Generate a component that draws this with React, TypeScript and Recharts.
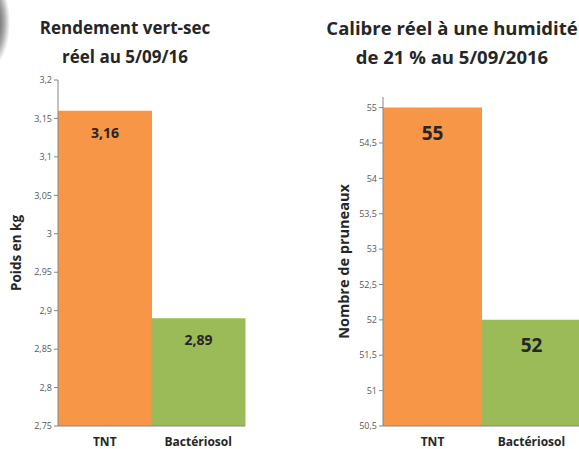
import React from "react";
import {
  Bar,
  BarChart,
  Cell,
  LabelList,
  Label,
  XAxis,
  YAxis,
} from "recharts";

const categories = ["TNT", "Bactériosol"];
const rendement = [3.16, 2.89];
const calibre = [55, 52];
const rendementTicks = [2.75, 2.8, 2.85, 2.9, 2.95, 3, 3.05, 3.1, 3.15, 3.2];
const calibreTicks = [50.5, 51, 51.5, 52, 52.5, 53, 53.5, 54, 54.5, 55];
const colors = ["#F79646", "#9BBB59"];

const rendementData = categories.map((c, i) => ({ name: c, value: rendement[i] }));
const calibreData = categories.map((c, i) => ({ name: c, value: calibre[i] }));

const font = "Open Sans, sans-serif";
const comma = (v: any) => String(v).replace(".", ",");

const titleStyle: React.CSSProperties = {
  position: "absolute",
  top: 13,
  fontFamily: font,
  fontWeight: 700,
  fontSize: 17,
  lineHeight: "29px",
  color: "#262626",
  textAlign: "center",
  whiteSpace: "nowrap",
};

const tickStyle = { fontSize: 9, fill: "#595959", fontFamily: font };
const catTick = { fontSize: 12, fill: "#262626", fontWeight: 700, fontFamily: font };

const App = () => {
  return (
    <div
      style={{
        position: "fixed",
        top: 0,
        left: 0,
        width: 579,
        height: 449,
        overflow: "hidden",
        background: "#fff",
      }}
    >
      <div
        style={{
          position: "absolute",
          left: -36,
          top: -25,
          width: 46,
          height: 95,
          borderRadius: "50%",
          background: "radial-gradient(closest-side, #555 40%, #aaa 75%, #fff 100%)",
        }}
      />
      <div style={{ ...titleStyle, left: 0, width: 250 }}>
        Rendement vert-sec
        <br />
        réel au 5/09/16
      </div>
      <div style={{ ...titleStyle, left: 322, width: 260, fontSize: 18.5 }}>
        Calibre réel à une humidité
        <br />
        de 21 % au 5/09/2016
      </div>

      <div style={{ position: "absolute", left: 0, top: 0 }}>
        <BarChart
          width={260}
          height={449}
          data={rendementData}
          margin={{ top: 80, right: 15, bottom: 0, left: 0 }}
          barCategoryGap={0}
        >
          <XAxis
            dataKey="name"
            height={23}
            tick={catTick}
            tickLine={false}
            axisLine={{ stroke: "#868686" }}
            tickMargin={5}
          />
          <YAxis
            width={58}
            domain={[2.75, 3.2]}
            ticks={rendementTicks}
            tickFormatter={comma}
            tick={tickStyle}
            tickLine={{ stroke: "#868686" }}
            tickSize={4}
            axisLine={{ stroke: "#868686" }}
            interval={0}
          >
            <Label
              value="Poids en kg"
              angle={-90}
              position="insideLeft"
              offset={16}
              style={{
                textAnchor: "middle",
                fontFamily: font,
                fontWeight: 700,
                fontSize: 13.5,
                fill: "#262626",
              }}
            />
          </YAxis>
          <Bar dataKey="value" isAnimationActive={false}>
            {rendementData.map((d, i) => (
              <Cell key={d.name} fill={colors[i]} />
            ))}
            <LabelList
              dataKey="value"
              position="insideTop"
              offset={17}
              formatter={comma}
              style={{ fontFamily: font, fontWeight: 700, fontSize: 14, fill: "#262626" }}
            />
          </Bar>
        </BarChart>
      </div>

      <div style={{ position: "absolute", left: 290, top: 0 }}>
        <BarChart
          width={295}
          height={449}
          data={calibreData}
          margin={{ top: 97, right: 4, bottom: 0, left: 0 }}
          barCategoryGap={0}
        >
          <XAxis
            dataKey="name"
            height={23}
            tick={catTick}
            tickLine={false}
            axisLine={{ stroke: "#868686" }}
            tickMargin={5}
          />
          <YAxis
            width={93}
            domain={[50.5, 55.15]}
            ticks={calibreTicks}
            tickFormatter={comma}
            tick={tickStyle}
            tickLine={{ stroke: "#868686" }}
            tickSize={4}
            axisLine={{ stroke: "#868686" }}
            interval={0}
          >
            <Label
              value="Nombre de pruneaux"
              angle={-90}
              position="insideLeft"
              offset={54}
              style={{
                textAnchor: "middle",
                fontFamily: font,
                fontWeight: 700,
                fontSize: 14.5,
                fill: "#262626",
              }}
            />
          </YAxis>
          <Bar dataKey="value" isAnimationActive={false}>
            {calibreData.map((d, i) => (
              <Cell key={d.name} fill={colors[i]} />
            ))}
            <LabelList
              dataKey="value"
              position="insideTop"
              offset={19}
              formatter={comma}
              style={{ fontFamily: font, fontWeight: 700, fontSize: 19, fill: "#262626" }}
            />
          </Bar>
        </BarChart>
      </div>
    </div>
  );
};

export default App;
